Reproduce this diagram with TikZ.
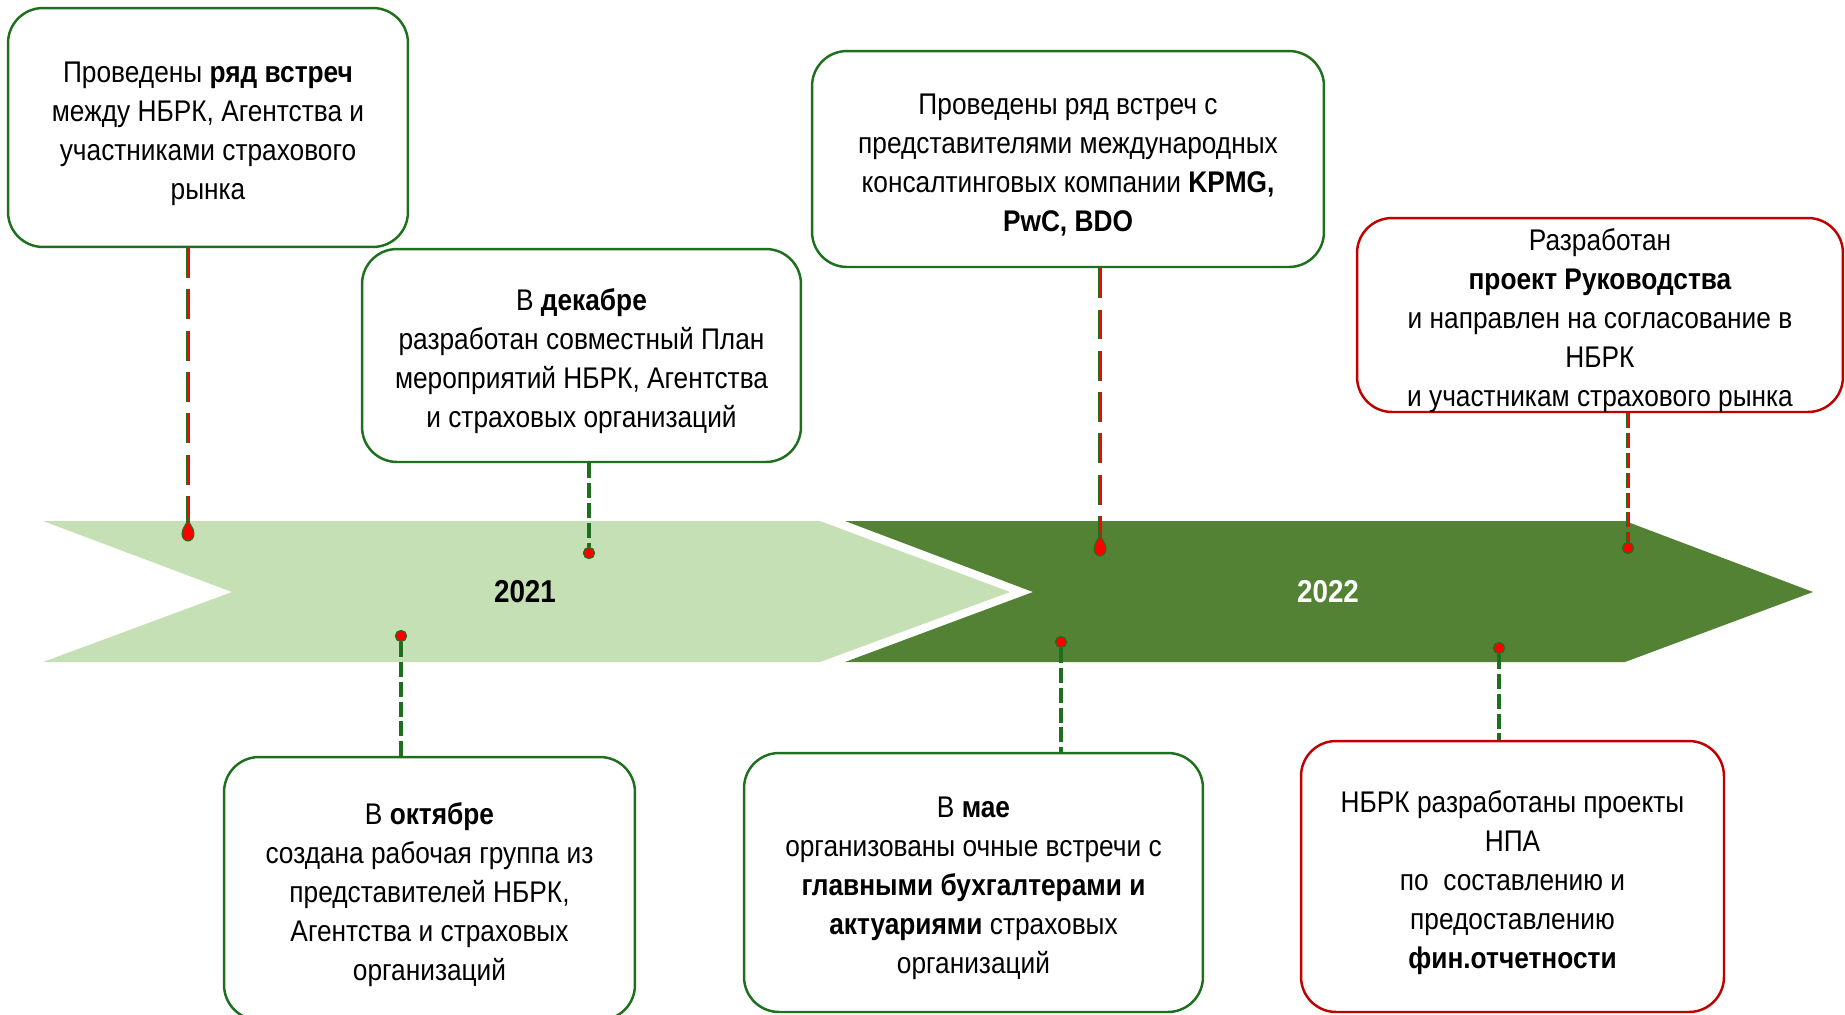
\documentclass[tikz,border=0pt]{standalone}
\usepackage{fontspec}
\setmainfont{Liberation Sans}[FakeStretch=0.88]
\usetikzlibrary{positioning}
\definecolor{mlight}{RGB}{197,224,180}
\definecolor{mdark}{RGB}{84,130,53}
\definecolor{mgreen}{RGB}{30,112,30}
\definecolor{mred}{RGB}{192,0,0}
\definecolor{mdot}{RGB}{255,0,0}
\tikzset{card/.style = {draw=mgreen, line width=1.4pt, rounded corners=0.7cm, inner sep=0pt},
         redcard/.style = {card, draw=mred},
         txt/.style = {align=center, inner sep=0pt, yshift=-0.12cm, font=\fontsize{17}{22.2}\selectfont},
         link/.style = {draw=mgreen, double=mdot, double distance=0.55pt, line width=0.7pt,
                        dash pattern=on 8.5pt off 2.8pt},
         longlink/.style = {link, dash pattern=on 17pt off 6.5pt},
         dot/.style = {circle, fill=mdot, draw=mgreen, line width=0.6pt, inner sep=0pt, minimum size=0.22cm},
         year/.style = {font=\bfseries\fontsize{18}{20}\selectfont},
         tear/.pic = {\draw [fill=mdot, draw=mgreen, line width=0.6pt]
                        (0,-14) .. controls (1.5,-8) and (6,-5) .. (6,1)
                        .. controls (6,5) and (3,8) .. (0,8)
                        .. controls (-3,8) and (-6,5) .. (-6,1)
                        .. controls (-6,-5) and (-1.5,-8) .. (0,-14) -- cycle;}}

\begin{document}
\begin{tikzpicture}[x=0.02cm, y=-0.02cm]
    \useasboundingbox (0,0) rectangle (1845,1014);
    \clip (0,0) rectangle (1845,1014);

    % timeline
    \fill [mlight] (43,521) -- (820,521) -- (1010,592) -- (820,662) -- (43,662) -- (232,592) -- cycle;
    \fill [mdark] (845,521) -- (1625,521) -- (1813,592) -- (1625,662) -- (845,662) -- (1033,592) -- cycle;
    \node [year] (y21) at (525,592) {2021};
    \node [year, white] (y22) at (1328,592) {2022};

    % event boxes
    \node [card, minimum width=8cm, minimum height=4.78cm] (b1) at (208,127.5) {};
    \node [card, minimum width=8.78cm, minimum height=4.26cm] (b2) at (581.5,355.5) {};
    \node [card, minimum width=10.24cm, minimum height=4.32cm] (b3) at (1068,159) {};
    \node [redcard, minimum width=9.72cm, minimum height=3.88cm] (b4) at (1600,315) {};
    \node [card, minimum width=8.22cm, minimum height=5.26cm] (b5) at (429.5,888.5) {};
    \node [card, minimum width=9.18cm, minimum height=5.18cm] (b6) at (973.5,882.5) {};
    \node [redcard, minimum width=8.46cm, minimum height=5.42cm] (b7) at (1512.5,876.5) {};

    \node [txt] (t1) at (b1) {Проведены \textbf{ряд встреч}\\ между НБРК, Агентства и\\ участниками страхового\\ рынка};
    \node [txt] (t2) at (b2) {В \textbf{декабре}\\ разработан совместный План\\ мероприятий НБРК, Агентства\\ и страховых организаций};
    \node [txt] (t3) at (b3) {Проведены ряд встреч с\\ представителями международных\\ консалтинговых компании \textbf{KPMG,}\\ \textbf{PwC, BDO}};
    \node [txt] (t4) at (b4) {Разработан\\ \textbf{проект Руководства}\\ и направлен на согласование в\\ НБРК\\ и участникам страхового рынка};
    \node [txt] (t5) at (b5) {В \textbf{октябре}\\ создана рабочая группа из\\ представителей НБРК,\\ Агентства и страховых\\ организаций};
    \node [txt] (t6) at (b6) {В \textbf{мае}\\ организованы очные встречи с\\ \textbf{главными бухгалтерами и}\\ \textbf{актуариями} страховых\\ организаций};
    \node [txt] (t7) at (b7) {НБРК разработаны проекты\\ НПА\\ по~ составлению и\\ предоставлению\\ \textbf{фин.отчетности}};

    % markers on the band
    \coordinate (d1) at (188,533);
    \node [dot] (d2) at (589,553) {};
    \node [dot] (d3) at (401,636) {};
    \coordinate (d4) at (1100,548);
    \node [dot] (d5) at (1061,642) {};
    \node [dot] (d6) at (1628,548) {};
    \node [dot] (d7) at (1499,648) {};

    \draw [longlink] (b1.south -| d1) -- (d1);
    \draw [longlink] (b3.south -| d4) -- (d4);
    \draw [link] (b2.south -| d2) -- (d2);
    \draw [link] (b4.south -| d6) -- (d6);
    \draw [link] (d3) -- (d3 |- b5.north);
    \draw [link] (d5) -- (d5 |- b6.north);
    \draw [link] (d7) -- (d7 |- b7.north);
    \pic at (d1) {tear};
    \pic at (d4) {tear};
    \foreach \d in {d2, d3, d5, d6, d7}
      \node [dot] at (\d) {};
  \end{tikzpicture}
\end{document}
